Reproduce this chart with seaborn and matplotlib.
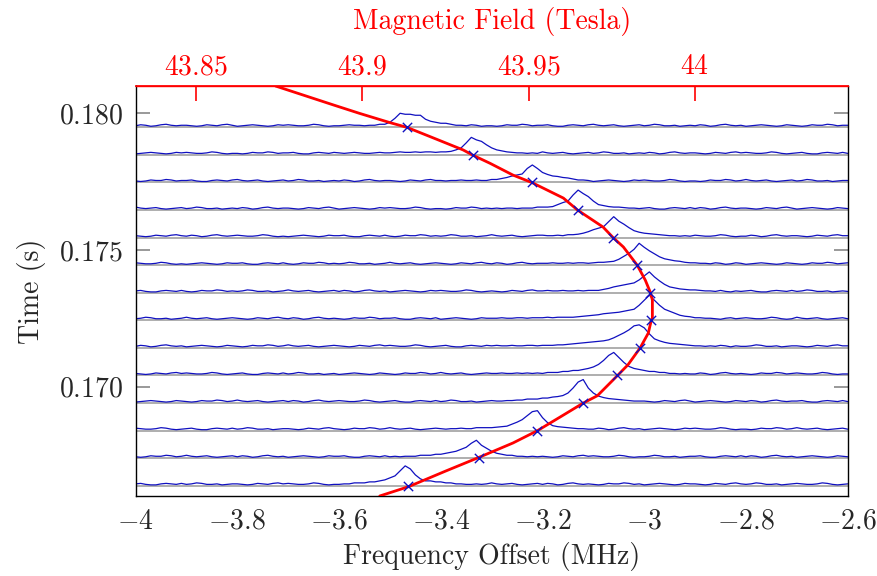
import numpy as np
import pandas as pd
import matplotlib
matplotlib.use("Agg")
import matplotlib.pyplot as plt
from matplotlib.ticker import FuncFormatter, FixedLocator
import seaborn as sns

# ---------------- data ----------------
# baseline time of each spectrum (s)
times = [0.17949, 0.17848, 0.17747, 0.17646, 0.17545, 0.17444, 0.17343,
         0.17243, 0.17142, 0.17041, 0.16940, 0.16839, 0.16738, 0.16637]

# spectra: 141 samples from -4 to -2.6 MHz (amplitude in arbitrary units)
trace_00 = [3,5,4,2,3,5,6,4,3,4, 4,3,2,3,5,4,3,5,6,4, 2,3,4,5,4,3,2,3,5,4, 5,4,3,3,4,6,5,3,2,3,
            3,4,5,4,4,3,4,4,6,6, 10,18,28,26,26,24,24,16,12,10, 8,8,6,4,4,3,5,4,2,3, 3,2,3,5,4,4,6,5,3,4,
            4,5,3,2,2,4,5,4,3,5, 6,4,3,4,5,3,2,3,4,5, 3,4,6,5,3,3,4,2,3,4, 3,5,4,2,3,5,6,4,3,4,
            2,3,4,5,4,3,2,3,5,4, 3,2,3,5,4,4,6,5,3,4, 4]
trace_01 = [2,3,4,5,4,3,2,3,5,4, 5,4,3,3,4,6,5,3,2,3, 3,2,3,5,4,4,6,5,3,4, 4,5,3,2,2,4,5,4,3,5,
            4,3,4,5,4,3,3,4,5,4, 4,5,6,5,5,6,5,6,6,5, 6,6,7,10,14,24,35,30,27,20, 14,10,8,6,5,4,4,3,4,3,
            6,4,3,4,5,3,2,3,4,5, 3,4,6,5,3,3,4,2,3,4, 3,5,4,2,3,5,6,4,3,4, 4,3,2,3,5,4,3,5,6,4,
            5,4,3,3,4,6,5,3,2,3, 4,5,3,2,2,4,5,4,3,5, 3]
trace_02 = [3,2,3,5,4,4,6,5,3,4, 4,5,3,2,2,4,5,4,3,5, 6,4,3,4,5,3,2,3,4,5, 3,4,6,5,3,3,4,2,3,4,
            3,5,4,2,3,5,6,4,3,4, 4,3,2,3,5,4,3,5,6,4, 4,3,4,4,5,4,4,5,4,4, 6,6,8,10,13,15,17,28,35,28,
            20,16,13,12,10,9,7,5,5,4, 2,3,4,5,4,3,2,3,5,4, 5,4,3,3,4,6,5,3,2,3, 3,2,3,5,4,4,6,5,3,4,
            6,4,3,4,5,3,2,3,4,5, 3,4,6,5,3,3,4,2,3,4, 4]
trace_03 = [6,4,3,4,5,3,2,3,4,5, 3,4,6,5,3,3,4,2,3,4, 3,5,4,2,3,5,6,4,3,4, 4,3,2,3,5,4,3,5,6,4,
            2,3,4,5,4,3,2,3,5,4, 5,4,3,3,4,6,5,3,2,3, 3,2,3,5,4,4,6,5,3,4, 3,4,3,4,4,3,4,4,4,6,
            6,6,7,11,15,18,30,40,33,27, 18,11,9,7,6,6,5,4,4,3, 4,5,3,2,2,4,5,4,3,5, 3,5,4,2,3,5,6,4,3,4,
            4,3,2,3,5,4,3,5,6,4, 2,3,4,5,4,3,2,3,5,4, 3]
trace_04 = [4,3,2,3,5,4,3,5,6,4, 3,5,4,2,3,5,6,4,3,4, 5,4,3,3,4,6,5,3,2,3, 2,3,4,5,4,3,2,3,5,4,
            4,5,3,2,2,4,5,4,3,5, 3,2,3,5,4,4,6,5,3,4, 3,4,6,5,3,3,4,2,3,4, 6,4,3,4,5,3,2,3,4,5,
            5,4,4,5,4,6,6,7,9,12, 16,19,22,32,42,33,27,20,14,11, 9,8,7,6,5,4,4,3,4,3, 5,4,3,3,4,6,5,3,2,3,
            3,5,4,2,3,5,6,4,3,4, 4,3,2,3,5,4,3,5,6,4, 4]
trace_05 = [5,4,3,3,4,6,5,3,2,3, 2,3,4,5,4,3,2,3,5,4, 4,5,3,2,2,4,5,4,3,5, 3,2,3,5,4,4,6,5,3,4,
            3,4,6,5,3,3,4,2,3,4, 6,4,3,4,5,3,2,3,4,5, 4,3,2,3,5,4,3,5,6,4, 3,5,4,2,3,5,6,4,3,4,
            4,4,5,4,4,5,4,5,5,4, 5,6,6,7,8,12,18,24,32,44, 36,29,23,17,13,11,9,8,6,5, 5,4,4,3,5,4,2,3,5,4,
            2,3,4,5,4,3,2,3,5,4, 3,2,3,5,4,4,6,5,3,4, 5]
trace_06 = [4,5,3,2,2,4,5,4,3,5, 3,2,3,5,4,4,6,5,3,4, 3,4,6,5,3,3,4,2,3,4, 6,4,3,4,5,3,2,3,4,5,
            3,5,4,2,3,5,6,4,3,4, 2,3,4,5,4,3,2,3,5,4, 5,4,3,3,4,6,5,3,2,3, 4,3,2,3,5,4,3,5,6,4,
            4,5,4,4,5,4,4,5,4,5, 5,5,7,9,12,14,16,18,20,26, 34,42,32,24,17,12,10,8,7,6, 6,5,4,4,3,5,3,2,4,3,
            4,5,3,2,2,4,5,4,3,5, 3,4,6,5,3,3,4,2,3,4, 3]
trace_07 = [3,4,6,5,3,3,4,2,3,4, 6,4,3,4,5,3,2,3,4,5, 4,3,2,3,5,4,3,5,6,4, 3,5,4,2,3,5,6,4,3,4,
            3,2,3,5,4,4,6,5,3,4, 4,5,3,2,2,4,5,4,3,5, 2,3,4,5,4,3,2,3,5,4, 4,4,5,4,4,5,5,4,5,5,
            5,6,5,6,6,6,6,7,8,9, 10,11,13,14,15,16,18,20,22,30, 40,50,40,30,22,18,14,10,8,7, 5,5,4,4,3,2,4,5,3,4,
            5,4,3,3,4,6,5,3,2,3, 6,4,3,4,5,3,2,3,4,5, 3]
trace_08 = [3,5,4,2,3,5,6,4,3,4, 2,3,4,5,4,3,2,3,5,4, 3,2,3,5,4,4,6,5,3,4, 6,4,3,4,5,3,2,3,4,5,
            4,3,2,3,5,4,3,5,6,4, 5,4,3,3,4,6,5,3,2,3, 4,5,3,2,2,4,5,4,3,5, 4,5,4,4,5,4,4,5,5,4,
            5,5,5,6,6,7,8,9,10,11, 12,13,14,16,20,25,30,36,44,46, 40,28,18,14,11,9,8,7,6,5, 4,4,3,4,3,5,4,2,4,3,
            3,4,6,5,3,3,4,2,3,4, 4,3,2,3,5,4,3,5,6,4, 4]
trace_09 = [4,3,2,3,5,4,3,5,6,4, 5,4,3,3,4,6,5,3,2,3, 4,5,3,2,2,4,5,4,3,5, 3,4,6,5,3,3,4,2,3,4,
            2,3,4,5,4,3,2,3,5,4, 3,2,3,5,4,4,6,5,3,4, 6,4,3,4,5,3,2,3,4,5, 4,4,5,4,4,5,4,5,4,5,
            4,6,6,6,8,8,10,10,12,14, 17,22,30,40,46,36,26,18,14,12, 10,8,8,6,6,4,4,3,4,3, 3,5,4,2,3,5,6,4,3,4,
            3,2,3,5,4,4,6,5,3,4, 5,4,3,3,4,6,5,3,2,3, 3]
trace_10 = [2,3,4,5,4,3,2,3,5,4, 3,2,3,5,4,4,6,5,3,4, 6,4,3,4,5,3,2,3,4,5, 3,5,4,2,3,5,6,4,3,4,
            5,4,3,3,4,6,5,3,2,3, 4,5,3,2,2,4,5,4,3,5, 3,4,6,5,3,3,4,2,3,4, 5,4,4,5,5,6,6,8,8,8,
            10,10,12,13,15,20,30,42,47,30, 20,14,11,9,8,7,6,5,4,4, 4,3,2,3,5,4,3,5,6,4, 2,3,4,5,4,3,2,3,5,4,
            3,5,4,2,3,5,6,4,3,4, 4,5,3,2,2,4,5,4,3,5, 3]
trace_11 = [5,4,3,3,4,6,5,3,2,3, 4,5,3,2,2,4,5,4,3,5, 3,4,6,5,3,3,4,2,3,4, 4,3,2,3,5,4,3,5,6,4,
            3,2,3,5,4,4,6,5,3,4, 6,4,3,4,5,3,2,3,4,5, 4,3,4,4,5,4,4,6,6,6, 6,7,8,9,13,17,22,30,38,40,
            26,16,10,8,7,6,5,4,4,3, 3,5,4,2,3,5,6,4,3,4, 2,3,4,5,4,3,2,3,5,4, 5,4,3,3,4,6,5,3,2,3,
            3,2,3,5,4,4,6,5,3,4, 6,4,3,4,5,3,2,3,4,5, 3]
trace_12 = [3,2,3,5,4,4,6,5,3,4, 6,4,3,4,5,3,2,3,4,5, 3,5,4,2,3,5,6,4,3,4, 2,3,4,5,4,3,2,3,5,4,
            4,5,3,2,2,4,5,4,3,5, 3,4,3,4,4,4,6,6,6,8, 8,10,12,14,18,22,30,36,26,20, 14,10,8,6,6,4,4,3,4,3,
            4,3,2,3,5,4,3,5,6,4, 5,4,3,3,4,6,5,3,2,3, 3,4,6,5,3,3,4,2,3,4, 4,5,3,2,2,4,5,4,3,5,
            3,5,4,2,3,5,6,4,3,4, 2,3,4,5,4,3,2,3,5,4, 3]
trace_13 = [4,5,3,2,2,4,5,4,3,5, 3,4,6,5,3,3,4,2,3,4, 4,3,2,3,5,4,3,5,6,4, 5,4,3,3,4,6,5,3,2,3,
            3,4,4,6,6,6,8,8,10,12, 16,20,30,40,34,22,14,10,10,8, 8,6,6,4,4,3,3,4,3,4, 6,4,3,4,5,3,2,3,4,5,
            3,5,4,2,3,5,6,4,3,4, 3,2,3,5,4,4,6,5,3,4, 2,3,4,5,4,3,2,3,5,4, 4,3,2,3,5,4,3,5,6,4,
            3,4,6,5,3,3,4,2,3,4, 5,4,3,3,4,6,5,3,2,3, 4]
traces = [trace_00, trace_01, trace_02, trace_03, trace_04, trace_05, trace_06,
          trace_07, trace_08, trace_09, trace_10, trace_11, trace_12, trace_13]

# fitted peak positions (MHz), one per spectrum
peak_freq = [-3.467, -3.336, -3.220, -3.131, -3.061, -3.014, -2.988,
             -2.986, -3.008, -3.053, -3.120, -3.210, -3.324, -3.4635]

# fitted sweep curve (time s, frequency MHz)
fit_time = [0.18100, 0.18030, 0.18000, 0.17966, 0.17949, 0.17914, 0.17866, 0.17846,
            0.17817, 0.17774, 0.17746, 0.17690, 0.17646, 0.17584, 0.17545, 0.17511,
            0.17445, 0.17390, 0.17345, 0.17317, 0.17251, 0.17244, 0.17196, 0.17142,
            0.17080, 0.17040, 0.16967, 0.16940, 0.16896, 0.16839, 0.16794, 0.16742,
            0.16690, 0.16634, 0.16600]
fit_freq = [-3.725, -3.610, -3.560, -3.500, -3.467, -3.420, -3.356, -3.336,
            -3.303, -3.258, -3.220, -3.159, -3.131, -3.081, -3.061, -3.041,
            -3.014, -2.998, -2.988, -2.984, -2.984, -2.986, -2.992, -3.008,
            -3.032, -3.053, -3.092, -3.120, -3.159, -3.210, -3.258, -3.324,
            -3.392, -3.4635, -3.520]

x_ticks = [-4, -3.8, -3.6, -3.4, -3.2, -3, -2.8, -2.6]
y_ticks = [0.170, 0.175, 0.180]
field_ticks = [43.85, 43.9, 43.95, 44]

# conversion frequency offset (MHz) -> field (T)
MHZ_PER_TESLA = 6.544
FIELD_AT_ZERO = 44.4432

# ---------------- style ----------------
AMP = 1.83e-5          # seconds per amplitude unit
BLUE = "#1010c0"
sns.set_theme(style="white")
plt.rcParams.update({
    "font.family": "cmr10",
    "mathtext.fontset": "cm",
    "axes.formatter.use_mathtext": True,
    "axes.unicode_minus": True,
    "font.size": 20,
})

rows = []
for tr, t0, vals in zip(range(len(traces)), times, traces):
    fx = np.linspace(-4.0, -2.6, len(vals))
    for f, v in zip(fx, vals):
        rows.append((tr, f, t0 + v * AMP))
df = pd.DataFrame(rows, columns=["trace", "freq", "y"])

fig = plt.figure(figsize=(8.77, 5.76), dpi=100)
ax = fig.add_axes([0.1546, 0.1389, 0.9666 - 0.1546, 0.8507 - 0.1389])

for t0 in times:
    ax.axhline(t0, color="#a8a8a8", lw=1.3, zorder=1)

sns.lineplot(data=df, x="freq", y="y", units="trace", estimator=None,
             color=BLUE, lw=0.9, ax=ax, legend=False, zorder=2)
sns.lineplot(x=fit_freq, y=fit_time, sort=False, estimator=None,
             color="red", lw=2.0, ax=ax, zorder=3)
sns.scatterplot(x=peak_freq, y=times, marker="x", color=BLUE, s=45,
                linewidth=1.0, ax=ax, zorder=4)

ax.set_xlim(-4, -2.6)
ax.set_ylim(0.166, 0.181)
ax.xaxis.set_major_locator(FixedLocator(x_ticks))
ax.yaxis.set_major_locator(FixedLocator(y_ticks))
ax.xaxis.set_major_formatter(FuncFormatter(lambda v, p: "$%g$" % round(v, 3)))
ax.yaxis.set_major_formatter(FuncFormatter(lambda v, p: "$%.3f$" % v))
ax.tick_params(axis="x", direction="in", length=9, width=1.2, color="#888888",
               top=False, pad=9, labelsize=20)
ax.tick_params(axis="y", direction="in", length=10, width=1.2, color="#888888",
               left=True, right=True, pad=9, labelsize=20)
for s in ["left", "right", "bottom"]:
    ax.spines[s].set_color("black")
    ax.spines[s].set_linewidth(1.0)
ax.spines["top"].set_color("red")
ax.spines["top"].set_linewidth(1.0)

ax.set_xlabel("Frequency Offset (MHz)", fontsize=20, labelpad=5)
ax.set_ylabel("Time (s)", fontsize=20, labelpad=9)

secax = ax.secondary_xaxis(
    "top",
    functions=(lambda f: FIELD_AT_ZERO + f / MHZ_PER_TESLA,
               lambda b: (b - FIELD_AT_ZERO) * MHZ_PER_TESLA))
secax.xaxis.set_major_locator(FixedLocator(field_ticks))
secax.xaxis.set_major_formatter(FuncFormatter(lambda v, p: "$%g$" % round(v, 3)))
secax.tick_params(axis="x", direction="in", length=11, width=1.2, color="red",
                  labelcolor="red", pad=4, labelsize=20)
secax.spines["top"].set_color("red")
secax.set_xlabel("Magnetic Field (Tesla)", color="red", fontsize=20, labelpad=18)

fig.savefig("out.png", dpi=100)
